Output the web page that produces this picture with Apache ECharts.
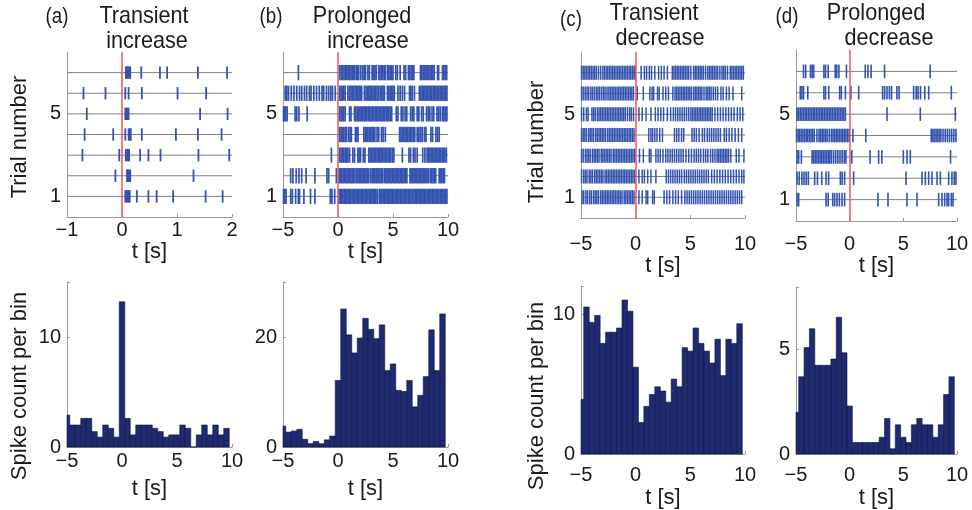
<!DOCTYPE html>
<html>
<head>
<meta charset="utf-8">
<script src="https://cdn.jsdelivr.net/npm/echarts@6/dist/echarts.min.js"></script>
<style>
  html, body { margin: 0; padding: 0; background: #ffffff; }
  #chart { width: 972px; height: 510px; }
</style>
</head>
<body>
<div id="chart"></div>
<script>
// ---- Spike times (s) per trial, trial 1 first ----
const spikesA = [
  [0.06, 0.08, 0.1, 0.12, 0.14, 0.27, 0.48, 0.63, 0.93, 1.52, 1.83],
  [-0.12, 0.09, 0.11, 0.13, 0.15, 1.3],
  [-0.72, -0.05, 0.07, 0.09, 0.11, 0.13, 0.33, 0.48, 0.7, 1.39, 1.95],
  [-0.68, -0.16, 0.06, 0.12, 0.14, 0.16, 0.36, 0.98, 1.38, 1.81],
  [-0.64, 0.06, 0.08, 0.1, 0.12, 1.42, 1.92],
  [-0.7, -0.3, 0.06, 0.12, 0.36, 1.01, 1.53],
  [0.07, 0.09, 0.11, 0.13, 0.15, 0.35, 0.69, 0.82, 1.38, 1.91]
];

const spikesB = [
  [-4.95, -4.85, -4.72, -4.3, -4.15, -3.85, -3.6, -3.5, -3.1, -2.5, -2.1, -0.7, -0.55, -0.3,
   0.08, 0.2, 0.32, 0.44, 0.56, 0.68, 0.8, 0.92, 1.04, 1.16, 1.28, 1.4, 1.52, 1.64, 1.76, 1.88,
   2.0, 2.12, 2.24, 2.36, 2.48, 2.6, 2.72, 2.84, 2.96, 3.08, 3.2, 3.32, 3.44, 3.56, 3.75, 3.87,
   3.99, 4.11, 4.23, 4.35, 4.47, 4.59, 4.71, 4.83, 4.95, 5.07, 5.19, 5.31, 5.43, 5.55, 5.67, 5.79,
   5.91, 6.03, 6.15, 6.27, 6.39, 6.51, 6.63, 6.75, 6.9, 7.02, 7.14, 7.26, 7.38, 7.5, 7.62, 7.74,
   7.86, 7.98, 8.1, 8.22, 8.34, 8.46, 8.58, 8.7, 8.82, 8.94, 9.06, 9.18, 9.3, 9.42, 9.54, 9.66, 9.78, 9.9],
  [-4.3, -4.1, -3.8, -3.55, -3.3, -2.9, -2.1, -1.0, -0.85, -0.15,
   0.1, 0.22, 0.34, 0.46, 0.58, 0.7, 0.82, 0.94, 1.06, 1.18, 1.3, 1.42, 1.54, 1.7, 1.82, 1.94,
   2.06, 2.18, 2.3, 2.42, 2.54, 2.66, 2.78, 2.95, 3.1, 3.22, 3.34, 3.46, 3.58, 3.7, 3.82, 3.94,
   4.06, 4.22, 4.34, 4.46, 4.58, 4.7, 4.82, 4.94, 5.06, 5.18, 5.3, 5.42, 5.54, 5.66, 5.78, 5.9,
   6.02, 6.14, 6.26, 6.55, 6.67, 6.79, 6.91, 7.03, 7.15, 7.27, 7.39, 7.51, 7.63, 7.75, 7.87, 7.99,
   8.11, 8.23, 8.4, 8.52, 8.64, 8.76, 8.88, 9.2, 9.32, 9.44, 9.56, 9.68],
  [-0.6,
   0.15, 0.28, 0.4, 0.52, 0.65, 0.78, 0.9, 1.05, 1.35, 1.5, 1.8, 1.92, 2.05, 2.3, 2.45, 2.8,
   2.92, 3.05, 3.18, 3.3, 3.42, 3.55, 3.68, 3.8, 3.92, 4.05, 4.18, 4.3, 4.42, 4.55, 4.68, 4.8,
   4.95, 5.08, 5.85, 6.45, 6.6, 6.85, 7.0, 7.2, 7.7, 7.9, 8.1, 8.22, 8.35, 8.48, 8.6, 8.72,
   8.85, 8.98, 9.1, 9.22, 9.35, 9.48, 9.6, 9.72, 9.85],
  [0.15, 0.28, 0.4, 0.52, 0.65, 0.78, 0.97, 1.1, 1.22, 1.58, 1.7, 1.82, 2.35, 2.48, 2.6, 2.72,
   2.85, 2.98, 3.1, 3.22, 3.35, 3.55, 3.7, 3.95, 4.1, 4.3, 5.6, 5.72, 5.85, 5.98, 6.1, 6.22,
   6.35, 6.48, 6.6, 6.72, 6.85, 6.98, 7.2, 7.35, 7.5, 7.65, 7.85, 8.0, 8.45, 8.6, 8.9, 9.05, 9.2],
  [-4.95, -4.85, -4.75, -4.62, -3.9, -3.75, -3.55, -2.8,
   0.15, 0.28, 0.4, 0.52, 0.65, 1.05, 1.18, 1.5, 1.62, 1.75, 1.88, 2.0, 2.12, 2.25, 2.38, 2.5,
   2.62, 2.75, 2.88, 3.0, 3.12, 3.25, 3.38, 3.5, 3.62, 3.75, 3.88, 4.0, 4.12, 4.25, 4.38, 4.5,
   4.62, 4.75, 4.88, 5.3, 5.45, 5.75, 5.9, 6.1, 6.25, 6.6, 6.75, 6.9, 7.2, 7.35, 7.6, 7.75,
   8.05, 8.2, 8.35, 8.55, 8.7, 9.0, 9.15, 9.3, 9.5, 9.62, 9.75, 9.9],
  [-4.8, -4.65, -4.5, -4.25, -4.0, -3.75, -3.5, -3.3, -3.05, -2.85, -2.6, -2.45, -2.2, -1.95,
   -1.7, -1.45, -1.3, -1.05, -0.85, -0.65, -0.5, -0.25,
   0.15, 0.28, 0.4, 0.52, 0.65, 0.9, 1.05, 1.18, 1.3, 1.42, 1.55, 1.68, 1.8, 1.92, 2.05, 2.15,
   2.4, 2.55, 2.68, 2.8, 2.92, 3.05, 3.18, 3.3, 3.42, 3.55, 3.7, 3.85, 3.98, 4.1, 4.22, 4.5,
   4.62, 4.75, 4.88, 5.0, 5.12, 5.45, 5.65, 5.85, 6.05, 6.5, 6.62, 6.75, 6.95, 7.4, 7.52, 7.65,
   7.78, 7.9, 8.02, 8.15, 8.28, 8.4, 8.52, 8.65, 8.78, 8.9, 9.02, 9.15, 9.28, 9.4, 9.52, 9.65, 9.78, 9.9],
  [-3.6,
   0.15, 0.3, 0.42, 0.55, 0.68, 0.8, 0.92, 1.05, 1.18, 1.3, 1.42, 1.52, 1.67, 1.8, 1.88, 2.07,
   2.25, 2.38, 2.5, 2.72, 2.85, 3.1, 3.22, 3.35, 3.47, 3.7, 3.82, 3.95, 4.08, 4.2, 4.3, 4.5,
   4.62, 4.75, 4.88, 5.0, 5.25, 5.4, 5.65, 6.0, 6.15, 6.4, 6.52, 6.65, 6.78, 6.9, 7.5, 7.62,
   7.75, 7.88, 8.0, 8.12, 8.25, 8.38, 8.5, 8.62, 8.75, 9.05, 9.15, 9.5, 9.62, 9.75, 9.88]
];

const spikesC = [
  [-4.9, -4.75, -4.55, -4.4, -4.2, -4.05, -3.85, -3.7, -3.55, -3.4, -3.2, -3.05, -2.9, -2.75,
   -2.6, -2.45, -2.3, -2.15, -2.0, -1.85, -1.7, -1.55, -1.4, -1.25, -1.05, -0.9, -0.75, -0.6,
   -0.45, -0.3, -0.15,
   0.3, 0.6, 0.95, 1.1, 1.55, 1.7, 2.6, 2.85, 3.1, 3.4, 3.65, 3.9, 4.2, 4.5, 4.7, 4.9, 5.1,
   5.3, 5.5, 5.7, 5.9, 6.1, 6.3, 6.5, 6.7, 6.9, 7.1, 7.3, 7.5, 7.7, 7.9, 8.1, 8.3, 8.5, 8.7,
   8.9, 9.1, 9.3, 9.5, 9.7],
  [-4.95, -4.75, -4.6, -4.45, -4.25, -4.1, -3.95, -3.75, -3.6, -3.45, -3.3, -3.15, -3.0, -2.8,
   -2.65, -2.5, -2.35, -2.2, -2.05, -1.9, -1.75, -1.6, -1.45, -1.3, -1.15, -1.0, -0.85, -0.7,
   -0.55, -0.4, -0.25, -0.1,
   0.3, 0.6, 0.8, 1.1, 1.4, 1.85, 2.8, 3.0, 3.2, 3.4, 3.6, 3.8, 4.0, 4.2, 4.45, 4.65, 4.85,
   5.05, 5.25, 5.45, 5.65, 5.85, 6.05, 6.25, 6.45, 6.65, 6.95, 7.2, 7.45, 7.7, 7.95, 8.2, 8.45,
   8.7, 8.95, 9.2, 9.45, 9.7, 9.9],
  [-4.95, -4.8, -4.6, -4.45, -4.3, -4.15, -3.95, -3.8, -3.65, -3.5, -3.35, -3.15, -3.0, -2.85,
   -2.7, -2.55, -2.4, -2.25, -2.05, -1.9, -1.75, -1.6, -1.45, -1.3, -1.15, -1.0, -0.85, -0.7,
   -0.55, -0.4, -0.25, -0.1,
   0.35, 0.7, 1.25, 1.4, 1.85, 2.05, 2.25, 2.5, 2.75, 2.95, 3.15, 3.35, 3.55, 3.75, 3.95, 4.15,
   4.35, 4.6, 4.85, 5.1, 5.35, 5.55, 5.75, 5.95, 6.2, 6.4, 6.6, 6.85, 7.05, 7.25, 7.45, 7.6,
   7.75, 7.9, 8.05, 8.2, 8.35, 8.5, 8.7, 9.2, 9.45, 9.9],
  [-4.95, -4.8, -4.65, -4.5, -4.3, -4.15, -4.0, -3.85, -3.65, -3.5, -3.35, -3.2, -3.05, -2.9,
   -2.75, -2.55, -2.4, -2.25, -2.1, -1.95, -1.8, -1.65, -1.5, -1.35, -1.2, -1.05, -0.9, -0.75,
   -0.6, -0.45, -0.3, -0.15,
   1.2, 1.4, 1.55, 1.75, 1.95, 2.2, 2.45, 3.55, 3.75, 3.95, 4.2, 4.4, 5.15, 5.35, 5.55, 5.8,
   6.1, 6.3, 6.55, 6.75, 6.95, 7.15, 7.35, 7.55, 7.75, 8.1, 8.3, 8.55, 8.8, 9.1, 9.4, 9.7],
  [-4.95, -4.75, -4.5, -4.35, -4.0, -3.85, -3.7, -3.5, -3.35, -3.2, -3.05, -2.9, -2.75, -2.6,
   -2.45, -2.3, -2.15, -2.0, -1.85, -1.7, -1.55, -1.4, -1.25, -1.1, -0.95, -0.75, -0.55, -0.4, -0.2,
   0.3, 0.6, 0.95, 1.4, 1.8, 2.05, 2.3, 2.55, 2.9, 3.2, 3.45, 3.65, 3.85, 4.05, 4.25, 4.45,
   4.65, 4.85, 5.05, 5.2, 5.35, 5.5, 5.65, 5.8, 5.95, 6.1, 6.25, 6.4, 6.55, 6.7, 6.85, 7.0,
   7.25, 7.5, 7.75, 8.0, 8.25, 8.5, 8.75, 9.0, 9.3, 9.55, 9.8],
  [-4.95, -4.8, -4.62, -4.45, -4.3, -4.1, -3.95, -3.78, -3.6, -3.45, -3.3, -3.12, -2.95, -2.8,
   -2.62, -2.45, -2.3, -2.15, -2.0, -1.85, -1.7, -1.55, -1.4, -1.25, -1.1, -0.95, -0.8, -0.65,
   -0.5, -0.35, -0.2,
   0.15, 0.7, 1.3, 1.5, 1.65, 2.0, 2.15, 2.5, 2.75, 3.0, 3.4, 3.6, 3.75, 3.9, 4.05, 4.2, 4.35,
   4.5, 4.65, 4.8, 4.95, 5.1, 5.3, 5.45, 5.6, 5.75, 5.9, 6.05, 6.25, 6.45, 6.6, 6.75, 6.9,
   7.1, 7.3, 7.5, 7.8, 8.0, 8.3, 8.55, 8.9, 9.7],
  [-4.95, -4.8, -4.65, -4.5, -4.35, -4.2, -4.05, -3.9, -3.75, -3.6, -3.4, -3.2, -3.0, -2.85,
   -2.7, -2.55, -2.4, -2.25, -2.1, -1.95, -1.8, -1.65, -1.5, -1.35, -1.2, -1.05, -0.9, -0.75,
   -0.6, -0.45, -0.3, -0.15, -0.05,
   0.5, 0.8, 1.0, 1.25, 1.45, 1.75, 2.1, 2.35, 2.6, 2.9, 3.35, 3.5, 3.65, 3.8, 3.95, 4.1, 4.25,
   4.4, 4.55, 4.7, 4.85, 5.05, 5.3, 5.45, 5.6, 5.75, 5.9, 6.05, 6.2, 6.4, 6.6, 6.75, 6.9, 7.05,
   7.2, 7.35, 7.5, 7.7, 7.9, 8.05, 8.2, 8.4, 8.65, 8.8, 8.95, 9.1, 9.25, 9.4, 9.55, 9.7, 9.85]
];

const spikesD = [
  [-4.9, -4.75, -2.2, -2.0, -1.58, -1.4, -1.18, -0.96, -0.71, -0.47, 2.64, 3.57, 5.34, 6.27,
   8.29, 8.6, 8.85, 9.07, 9.22, 9.47, 9.63],
  [-4.9, -4.7, -4.45, -4.25, -4.05, -3.85, -3.26, -3.0, -2.6, -2.2, -1.96, -0.87, -0.7, -0.47,
   0.37, 5.25, 6.74, 7.05, 7.36, 7.67, 8.14, 8.45, 9.22, 9.53, 9.75, 9.9],
  [-4.9, -4.75, -4.5, -3.5, -3.35, -3.2, -3.05, -2.9, -2.75, -2.6, -2.45, -2.3, -2.15, -2.0,
   -1.85, -1.7, -1.5, -1.3, -1.1, -0.9, -0.7, -0.5, -0.35, 0.2, 1.9, 2.7, 3.0, 5.0, 5.35, 5.65, 9.4],
  [-4.95, -4.8, -4.65, -4.5, -4.35, -4.2, -4.05, -3.9, -3.75, -3.6, -3.45, -3.3, -3.05, -2.85,
   -2.7, -2.55, -2.4, -2.25, -2.1, -1.9, -1.7, -1.55, -1.4, -1.25, -1.1, -0.95, -0.8, -0.65,
   -0.5, -0.35, -0.2, -0.05, 0.3, 1.5,
   7.6, 7.75, 7.9, 8.05, 8.2, 8.35, 8.5, 8.7, 8.9, 9.1, 9.3, 9.5, 9.7, 9.9],
  [-4.9, -4.75, -4.6, -4.45, -4.3, -4.15, -4.0, -3.85, -3.7, -3.55, -3.4, -3.25, -3.1, -2.95,
   -2.8, -2.65, -2.5, -2.35, -2.2, -2.05, -1.9, -1.75, -1.6, -1.45, -1.3, -1.15, -1.0, -0.85,
   -0.7, -0.55, -0.4, 3.48, 6.58, 9.84],
  [-4.6, -4.45, -4.3, -3.9, -2.4, -2.25, -1.95, -0.93, -0.78, -0.4, 0.12, 0.84, 3.07, 3.26,
   3.48, 3.7, 3.9, 4.4, 4.6, 5.96, 6.2, 6.37, 6.6, 7.0, 7.36, 9.47],
  [-4.3, -4.1, -3.65, -3.5, -3.35, -2.4, -2.25, -2.0, -1.35, -1.2, -1.0, -0.3, 1.45, 1.7, 2.0,
   3.25, 7.5]
];

// ---- Histogram bins: centres (s) and spike counts per bin ----
const binCenters = [-5, -4.5, -4, -3.5, -3, -2.5, -2, -1.5, -1, -0.5, 0, 0.5, 1, 1.5, 2,
                    2.5, 3, 3.5, 4, 4.5, 5, 5.5, 6, 6.5, 7, 7.5, 8, 8.5, 9, 9.5];
const countsA = [2.9, 2.0, 2.0, 2.6, 2.6, 1.4, 0.9, 2.0, 1.7, 0.9, 13.2, 2.6, 1.1, 2.0, 2.0,
                 2.0, 1.7, 1.4, 0.9, 1.1, 1.1, 2.0, 1.7, 0, 1.1, 2.0, 1.1, 2.0, 1.1, 1.7];
const countsB = [3.8, 2.7, 2.9, 3.2, 1.4, 0.6, 1.0, 0.6, 1.3, 2.0, 12.1, 25.1, 20.4, 17.1, 19.8,
                 23.4, 21.4, 19.7, 22.2, 13.9, 15.1, 10.3, 10.1, 12.1, 7.3, 9.4, 12.8, 21.3, 13.9, 24.2];
const countsC = [3.9, 10.5, 9.4, 9.9, 7.9, 8.7, 8.7, 9.0, 11.0, 10.2, 6.2, 2.25, 3.4, 4.25, 4.8,
                 4.5, 3.7, 5.35, 4.8, 7.6, 7.35, 9.0, 7.9, 7.35, 6.5, 8.2, 5.6, 8.2, 7.9, 9.3];
const countsD = [2.0, 3.7, 5.1, 6.0, 4.25, 4.25, 4.25, 4.55, 6.55, 4.85, 2.3, 0.55, 0.55, 0.55, 0.55,
                 0.55, 0.8, 1.7, 0.25, 1.4, 0.8, 0.55, 1.4, 1.7, 1.4, 1.4, 0.8, 1.4, 2.85, 3.7];

// ---- Axis tick labels ----
const rasterYLabels = [1, 5];
const histYLabels = [[0, 10], [0, 20], [0, 10], [0, 5]];

// ---- Drawing ----
const FONT = "'Liberation Sans', Arial, sans-serif";
const AXIS_GRAY = '#9a9a9a';
const SPIKE_BLUE = '#3453b0';
const BAR_NAVY = '#1f2a72';

const grids = [
  { left: 67,  top: 52,  width: 165, height: 165 },
  { left: 283, top: 52,  width: 165, height: 165 },
  { left: 581, top: 52,  width: 164, height: 166 },
  { left: 796, top: 50,  width: 161, height: 171 },
  { left: 67,  top: 282, width: 165, height: 165 },
  { left: 283, top: 282, width: 165, height: 165 },
  { left: 581, top: 286, width: 164, height: 172 },
  { left: 796, top: 287, width: 161, height: 171 }
];

const minus = v => String(v).replace('-', '\u2212');

function xAxisFor(gi, min, max, interval, margin, nameGap) {
  return {
    type: 'value', gridIndex: gi, min, max, interval,
    axisLine: { onZero: false, lineStyle: { color: AXIS_GRAY, width: 1 } },
    axisTick: { inside: true, length: 3, lineStyle: { color: AXIS_GRAY } },
    splitLine: { show: false },
    axisLabel: { fontFamily: FONT, fontSize: 20, color: '#1a1a1a', margin, formatter: minus },
    name: 't [s]', nameLocation: 'middle', nameGap,
    nameTextStyle: { fontFamily: FONT, fontSize: 22, color: '#1a1a1a' }
  };
}

function yAxisFor(gi, min, max, interval, shown, withTicks) {
  return {
    type: 'value', gridIndex: gi, min, max, interval,
    axisLine: { show: true, onZero: false, lineStyle: { color: AXIS_GRAY, width: 1 } },
    axisTick: { show: withTicks, inside: true, length: 3, lineStyle: { color: AXIS_GRAY } },
    splitLine: { show: false },
    axisLabel: {
      fontFamily: FONT, fontSize: 20, color: '#1a1a1a', margin: 6,
      formatter: v => (shown.indexOf(v) >= 0 ? String(v) : '')
    }
  };
}

const xAxes = [
  xAxisFor(0, -1, 2, 1, 3, 23),
  xAxisFor(1, -5, 10, 5, 3, 23),
  xAxisFor(2, -5, 10, 5, 16, 35),
  xAxisFor(3, -5, 10, 5, 13, 33),
  xAxisFor(4, -5, 10, 5, 4, 31),
  xAxisFor(5, -5, 10, 5, 4, 31),
  xAxisFor(6, -5, 10, 5, 11, 33),
  xAxisFor(7, -5, 10, 5, 11, 33)
];

const histMax = [15, 30, 12, 8];
const histInterval = [10, 20, 10, 5];
const yAxes = [0, 1, 2, 3].map(i => yAxisFor(i, 0, 8, 1, rasterYLabels, false))
  .concat([0, 1, 2, 3].map(i => yAxisFor(4 + i, 0, histMax[i], histInterval[i], histYLabels[i], true)));

const trialRows = [[1], [2], [3], [4], [5], [6], [7]];

function rowItem(params, api) {
  const cs = params.coordSys;
  const y = api.coord([0, api.value(0)])[1];
  return { type: 'line', shape: { x1: cs.x, y1: y, x2: cs.x + cs.width, y2: y },
           style: { stroke: '#808080', lineWidth: 1 } };
}

function spikeRenderer(half, width) {
  return function (params, api) {
    const t = api.value(0), tr = api.value(1);
    const p0 = api.coord([t, tr - half]);
    const p1 = api.coord([t, tr + half]);
    return { type: 'line', shape: { x1: p0[0], y1: p0[1], x2: p1[0], y2: p1[1] },
             style: { stroke: SPIKE_BLUE, lineWidth: width } };
  };
}

function barItem(params, api) {
  const c = api.value(0), v = api.value(1);
  const a = api.coord([c - 0.25, v]);
  const b = api.coord([c + 0.25, 0]);
  const cs = params.coordSys;
  const rect = echarts.graphic.clipRectByRect(
    { x: a[0], y: a[1], width: b[0] - a[0], height: b[1] - a[1] },
    { x: cs.x, y: cs.y, width: cs.width, height: cs.height });
  if (!rect) return null;
  return { type: 'rect', shape: rect, style: { fill: BAR_NAVY, stroke: '#0c1236', lineWidth: 0.6 } };
}

const rasters = [spikesA, spikesB, spikesC, spikesD];
const halfHeights = [0.3, 0.37, 0.34, 0.32];
const tickWidths = [1.8, 1.7, 1.5, 1.6];
const series = [];

rasters.forEach((trials, i) => {
  series.push({
    type: 'custom', xAxisIndex: i, yAxisIndex: i, data: trialRows,
    renderItem: rowItem, silent: true, z: 1
  });
  const pts = [];
  trials.forEach((times, k) => times.forEach(t => pts.push([t, k + 1])));
  series.push({
    type: 'custom', xAxisIndex: i, yAxisIndex: i, data: pts,
    renderItem: spikeRenderer(halfHeights[i], tickWidths[i]), silent: true, z: 2,
    markLine: {
      silent: true, symbol: ['none', 'none'], label: { show: false },
      lineStyle: { color: '#e8565a', width: 1.5, type: 'solid' },
      data: [{ xAxis: 0 }], z: 5
    }
  });
});

[countsA, countsB, countsC, countsD].forEach((counts, i) => {
  series.push({
    type: 'custom', xAxisIndex: 4 + i, yAxisIndex: 4 + i,
    data: binCenters.map((c, k) => [c, counts[k]]),
    renderItem: barItem, silent: true, z: 2
  });
});

function label(text, x, y, size, rotate, sx) {
  return {
    type: 'text', x, y, rotation: rotate ? Math.PI / 2 : 0, silent: true,
    scaleX: sx || 1,
    style: { text, fontFamily: FONT, fontSize: size, fill: '#1a1a1a',
             textAlign: 'center', textVerticalAlign: 'middle' }
  };
}

const graphics = [
  label('(a)', 57, 17, 22, false, 0.85), label('Transient', 144, 16, 24, false, 0.9), label('increase', 147, 41, 24, false, 0.9),
  label('(b)', 271, 17, 22, false, 0.85), label('Prolonged', 362, 16, 24, false, 0.9), label('increase', 368, 41, 24, false, 0.9),
  label('(c)', 571, 20, 22, false, 0.85), label('Transient', 654, 13, 24, false, 0.9), label('decrease', 660, 38, 24, false, 0.9),
  label('(d)', 787, 17, 22, false, 0.85), label('Prolonged', 876, 13, 24, false, 0.9), label('decrease', 889, 38, 24, false, 0.9),
  label('Trial number', 20, 137, 22, true),
  label('Trial number', 537, 142, 22, true),
  label('Spike count per bin', 20, 386, 22, true),
  label('Spike count per bin', 537, 396, 22, true)
];

const chart = echarts.init(document.getElementById('chart'), null, { renderer: 'canvas' });
chart.setOption({
  animation: false,
  backgroundColor: '#ffffff',
  grid: grids,
  xAxis: xAxes,
  yAxis: yAxes,
  series,
  graphic: graphics
});
</script>
</body>
</html>
